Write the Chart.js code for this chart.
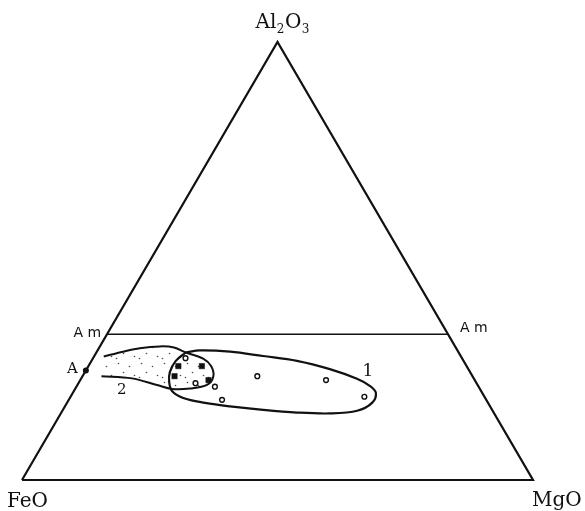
<!DOCTYPE html>
<html>
<head>
<meta charset="utf-8">
<script src="https://cdn.jsdelivr.net/npm/chart.js@4.4.1/dist/chart.umd.min.js"></script>
<style>
  html, body { margin: 0; padding: 0; background: #ffffff; }
  canvas { display: block; }
</style>
</head>
<body>
<canvas id="chart" width="585" height="511"></canvas>
<script>
// Compositions are given in percent as [FeO, MgO, Al2O3].
const vertexNames = ['FeO', 'MgO', 'Al2O3'];
const triangle = [[100, 0, 0], [0, 100, 0], [0, 0, 100], [100, 0, 0]];
const amLine = [[66.7, 0, 33.3], [0, 66.7, 33.3]];
const amLabel = 'A m';
const pointA = [[75, 0, 25]];
const pointALabel = 'A';

// Filled squares (overlap of both fields)
const squares = [
  [56.4, 17.6, 26.0],
  [51.8, 22.2, 26.0],
  [58.3, 18.0, 23.7],
  [52.1, 25.1, 22.8]
];

// Open circles
const circles = [
  [54.1, 18.1, 27.8],
  [55.0, 22.9, 22.1],
  [51.6, 27.1, 21.3],
  [51.7, 30.0, 18.3],
  [42.1, 34.2, 23.7],
  [29.1, 48.1, 22.8],
  [23.5, 57.5, 19.0]
];

// Field 1: closed outline
const field1Label = '1';
const field1 = [
  [53.4, 17.5, 29.1], [50.4, 20.0, 29.6], [44.6, 26.1, 29.3], [38.7, 33.0, 28.3],
  [32.6, 40.2, 27.2], [27.1, 47.6, 25.3], [22.9, 54.0, 23.1], [21.2, 57.3, 21.5],
  [20.8, 59.3, 19.9], [22.7, 59.7, 17.6], [26.5, 57.7, 15.8], [32.1, 52.7, 15.2],
  [38.5, 46.1, 15.4], [44.8, 39.2, 16.0], [50.9, 32.3, 16.8], [55.4, 27.0, 17.6],
  [59.1, 22.2, 18.7], [60.5, 19.2, 20.3], [60.0, 17.6, 22.4], [58.7, 16.6, 24.7],
  [56.3, 16.5, 27.2], [53.4, 17.5, 29.1]
];

// Field 2: stippled, open towards the FeO side
const field2Label = '2';
const field2 = [
  [69.9, 1.9, 28.2], [65.6, 5.1, 29.3], [61.9, 8.0, 30.1], [57.75, 11.75, 30.5],
  [55.1, 14.6, 30.25], [53.4, 17.5, 29.1], [50.7, 21.6, 27.7], [50.0, 24.0, 26.0],
  [50.7, 25.6, 23.7], [52.95, 25.35, 21.7], [56.65, 22.45, 20.9], [60.25, 18.95, 20.8],
  [62.75, 15.55, 21.7], [66.9, 9.9, 23.2], [72.6, 3.7, 23.7]
];

// Ternary -> cartesian (FeO at origin, MgO at (1,0), Al2O3 at apex)
const SQ3 = Math.sqrt(3) / 2;
function toXY(c) {
  const s = c[0] + c[1] + c[2];
  const mg = c[1] / s, al = c[2] / s;
  return { x: mg + al / 2, y: al * SQ3 };
}
const xy = arr => arr.map(toXY);

// Sparse, irregular stipple tile for field 2
function makeStipple() {
  const p = document.createElement('canvas');
  p.width = 23; p.height = 19;
  const g = p.getContext('2d');
  g.fillStyle = '#4a4a4a';
  const dots = [[3, 2], [14, 5], [8, 11], [19, 14], [1, 16]];
  for (const [dx, dy] of dots) {
    g.beginPath();
    g.arc(dx + 0.5, dy + 0.5, 0.8, 0, Math.PI * 2);
    g.fill();
  }
  return g.createPattern(p, 'repeat');
}

const serif = '"DejaVu Serif", "Liberation Serif", serif';
const sans = '"DejaVu Sans", "Liberation Sans", sans-serif';

const stippleFill = {
  id: 'stippleFill',
  beforeDatasetsDraw(chart) {
    const meta = chart.getDatasetMeta(3);
    if (!meta || !meta.dataset) return;
    const ctx = chart.ctx;
    const line = meta.dataset;
    if (line.updateControlPoints) line.updateControlPoints(chart.chartArea, 'x');
    ctx.save();
    ctx.beginPath();
    line.path(ctx);
    ctx.closePath();
    ctx.fillStyle = makeStipple();
    ctx.fill();
    ctx.restore();
  }
};

const textLabels = {
  id: 'textLabels',
  afterDatasetsDraw(chart) {
    const ctx = chart.ctx;
    const sx = chart.scales.x, sy = chart.scales.y;
    const px = c => { const p = toXY(c); return [sx.getPixelForValue(p.x), sy.getPixelForValue(p.y)]; };
    ctx.save();
    ctx.fillStyle = '#111111';
    ctx.textBaseline = 'alphabetic';

    // Vertex labels
    const fe = px(triangle[0]), mg = px(triangle[1]), al = px(triangle[2]);
    ctx.font = '20px ' + serif;
    ctx.textAlign = 'left';
    ctx.fillText(vertexNames[0], fe[0] - 15, fe[1] + 27);
    ctx.fillText(vertexNames[1], mg[0] - 1, mg[1] + 26);

    // Al2O3 with subscripts
    let x = al[0] - 22;
    const base = al[1] - 14;
    const parts = [['Al', 0, 20], ['2', 5, 12], ['O', 0, 20], ['3', 5, 12]];
    for (const [t, dy, size] of parts) {
      ctx.font = size + 'px ' + serif;
      ctx.fillText(t, x, base + dy);
      x += ctx.measureText(t).width + 0.5;
    }

    // Am labels at both ends of the line
    const am0 = px(amLine[0]), am1 = px(amLine[1]);
    ctx.font = '14px ' + sans;
    ctx.textBaseline = 'middle';
    ctx.textAlign = 'right';
    ctx.fillText(amLabel, am0[0] - 6, am0[1] - 1);
    ctx.textAlign = 'left';
    ctx.fillText(amLabel, am1[0] + 12, am1[1] - 6);

    // Point A
    const a = px(pointA[0]);
    ctx.font = '15px ' + serif;
    ctx.textAlign = 'right';
    ctx.fillText(pointALabel, a[0] - 8, a[1] - 1);

    // Field numbers
    ctx.textAlign = 'center';
    ctx.font = '17px ' + serif;
    const f1 = px(field1[6]);
    ctx.fillText(field1Label, f1[0] + 11, f1[1] - 7);
    const f2 = px(field2[13]);
    ctx.font = '15px ' + serif;
    ctx.fillText(field2Label, f2[0] - 10, f2[1] + 12);
    ctx.restore();
  }
};

const lineSet = (data, width, tension) => ({
  data: xy(data),
  showLine: true,
  borderColor: '#111111',
  borderWidth: width,
  pointRadius: 0,
  pointHoverRadius: 0,
  tension: tension,
  fill: false
});

new Chart(document.getElementById('chart'), {
  type: 'scatter',
  data: {
    datasets: [
      lineSet(triangle, 2.2, 0),
      lineSet(amLine, 1.5, 0),
      lineSet(field1, 2.2, 0.35),
      lineSet(field2, 2, 0.35),
      {
        data: xy(squares),
        pointStyle: 'rect',
        pointRadius: 3.8,
        backgroundColor: '#111111',
        borderColor: '#111111',
        borderWidth: 0.5
      },
      {
        data: xy(circles),
        pointStyle: 'circle',
        pointRadius: 2.4,
        backgroundColor: '#ffffff',
        borderColor: '#111111',
        borderWidth: 1.4
      },
      {
        data: xy(pointA),
        pointStyle: 'circle',
        pointRadius: 3,
        backgroundColor: '#111111',
        borderColor: '#111111',
        borderWidth: 0
      }
    ]
  },
  options: {
    responsive: false,
    maintainAspectRatio: false,
    animation: false,
    devicePixelRatio: 1,
    layout: { padding: 0, autoPadding: false },
    plugins: {
      legend: { display: false },
      tooltip: { enabled: false }
    },
    scales: {
      x: { type: 'linear', min: -0.04305, max: 1.10176, display: false },
      y: { type: 'linear', min: -0.0613, max: 0.9490, display: false }
    }
  },
  plugins: [stippleFill, textLabels]
});
</script>
</body>
</html>
